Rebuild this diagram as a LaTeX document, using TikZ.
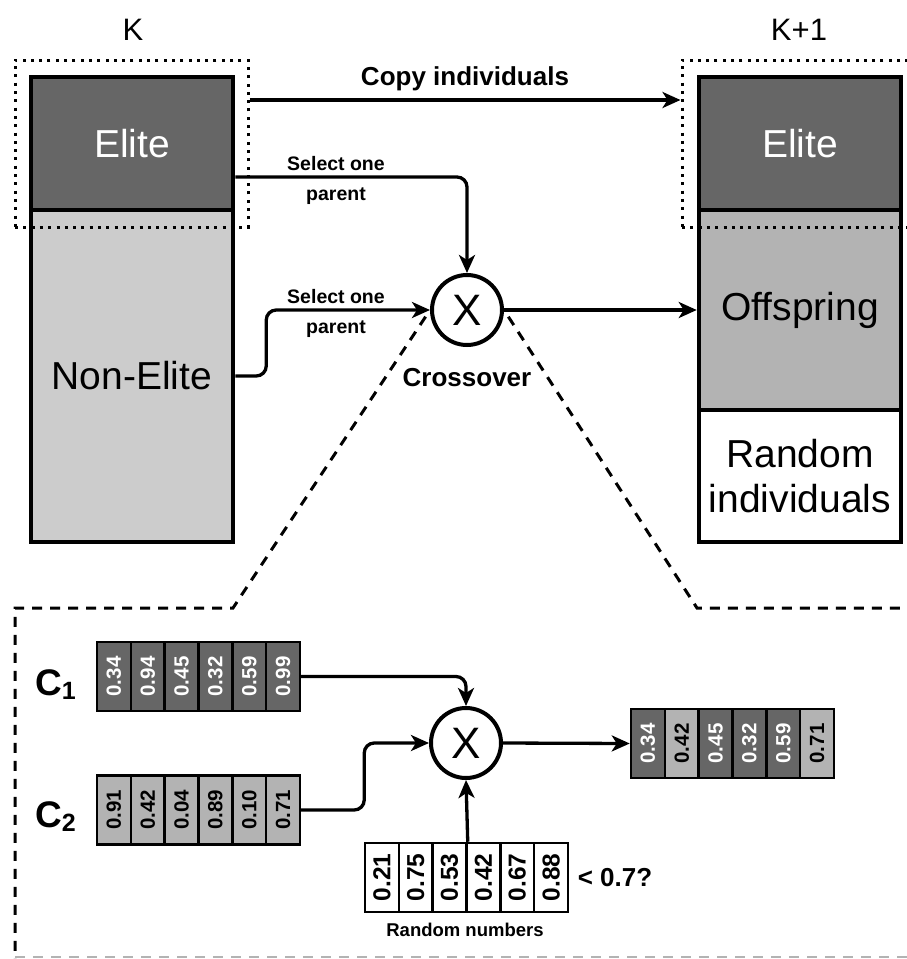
\documentclass[tikz,border=0pt]{standalone}
\usepackage{fontspec}
\setmainfont{Liberation Sans}
\usetikzlibrary{arrows.meta}
\newcommand{\fsz}[2]{\fontsize{#1}{#2}\selectfont}
\definecolor{darkg}{HTML}{666666}
\definecolor{lightg}{HTML}{CCCCCC}
\definecolor{midg}{HTML}{B3B3B3}
\pgfdeclarelayer{bg}
\pgfsetlayers{bg,main}
\begin{document}
\begin{tikzpicture}[x=1pt,y=-1pt,
  colbox/.style={draw,line width=4.5pt,minimum width=202pt,inner sep=0pt,font=\fsz{39}{45}},
  dotbox/.style={draw,line width=3pt,dash pattern=on 3pt off 5.3pt,inner sep=0pt},
  arr/.style={draw,line width=3.3pt,-{Stealth[length=18pt,width=16pt,inset=5pt]}},
  xnode/.style={circle,draw,fill=white,line width=4pt,minimum size=70pt,inner sep=0pt,font=\fsz{44}{44}},
  toplbl/.style={inner sep=0pt,font=\fsz{31}{31}},
  boldlbl/.style={inner sep=0pt,font=\bfseries\fsz{26}{30},align=center},
  sellbl/.style={inner sep=0pt,font=\bfseries\fsz{19.5}{30},align=center},
  cell/.style={draw,line width=2.5pt,minimum width=33.83pt,minimum height=69pt,inner sep=0pt,font=\bfseries\fsz{20.5}{20.5}},
  rcell/.style={cell,fill=white,font=\bfseries\fsz{24.5}{24.5}},
  dashk/.style={line width=3pt,dash pattern=on 10pt off 8pt,dash phase=10pt},
  dashg/.style={line width=2.5pt,draw=midg,dash pattern=on 10pt off 8pt}
]
\useasboundingbox (0,0) rectangle (907,959);

% ---------- top part ----------
\node[toplbl] (kL) at (133,30) {K};
\node[toplbl] (kR) at (799,30) {K+1};

\node[colbox,fill=darkg,text=white,minimum height=133pt] (eliteL) at (132,143.5) {Elite};
\node[colbox,fill=lightg,minimum height=332pt] (nonelite) at (132,376) {Non-Elite};

\node[colbox,fill=darkg,text=white,minimum height=133pt] (eliteR) at (800,143.5) {Elite};
\node[colbox,fill=midg,minimum height=200pt] (offspring) at (800,310) {Offspring};
\node[colbox,fill=white,minimum height=132pt,align=center] (randind) at (800,476) {Random\\individuals};

\node[dotbox,minimum width=233pt,minimum height=167pt] (dotL) at (131.5,143.5) {};
\node[dotbox,minimum width=233pt,minimum height=167pt] (dotR) at (798.5,143.5) {};

\node[xnode] (cx1) at (467,310) {X};

\draw[arr] ([yshift=43.5pt]dotL.east) -- ([yshift=43.5pt]dotR.west);
\node[boldlbl] (copylbl) at (465,79) {Copy individuals};

\draw[arr,rounded corners=10pt] ([yshift=-33.5pt]eliteL.east) -| (cx1.north);
\node[sellbl] (sel1) at (336,180) {Select one\\parent};

\draw[arr,rounded corners=10pt] (nonelite.east) -- ++(31,0) |- (cx1.west);
\node[sellbl] (sel2) at (336,313) {Select one\\parent};

\draw[arr] (cx1.east) -- (offspring.west);
\node[boldlbl] (crosslbl) at (467,378) {Crossover};

\begin{pgfonlayer}{bg}
\draw[dashk] (cx1.west) -- (233,608) -- (15,608) -- (15,962);
\draw[dashk] (cx1.east) -- (697,608) -- (915,608);
\draw[dashg] (15,957) -- (915,957);
\end{pgfonlayer}

% ---------- bottom part ----------
\node[anchor=base west,inner sep=0pt] (c1lbl) at (35,695) {\bfseries\fsz{37}{40}C\raisebox{-4pt}{\fsz{25}{25}1}};
\node[anchor=base west,inner sep=0pt] (c2lbl) at (35,827) {\bfseries\fsz{37}{40}C\raisebox{-4pt}{\fsz{25}{25}2}};

\foreach \v [count=\i] in {0.34,0.94,0.45,0.32,0.59,0.99}
  \node[cell,fill=darkg,text=white] (ca\i) at ({97+33.83*(\i-0.5)},676.5) {\rotatebox{90}{\v}};
\foreach \v [count=\i] in {0.91,0.42,0.04,0.89,0.10,0.71}
  \node[cell,fill=midg] (cb\i) at ({97+33.83*(\i-0.5)},810) {\rotatebox{90}{\v}};
\foreach \v/\c/\t [count=\i] in {0.34/darkg/white,0.42/midg/black,0.45/darkg/white,0.32/darkg/white,0.59/darkg/white,0.71/midg/black}
  \node[cell,fill=\c,text=\t] (cr\i) at ({631+33.83*(\i-0.5)},743.5) {\rotatebox{90}{\v}};
\foreach \v [count=\i] in {0.21,0.75,0.53,0.42,0.67,0.88}
  \node[rcell] (cd\i) at ({365+33.83*(\i-0.5)},877.5) {\rotatebox{90}{\v}};

\node[xnode] (cx2) at (466,743) {X};

\draw[arr,rounded corners=10pt] (ca6.east) -| (cx2.north);
\draw[arr,rounded corners=10pt] (cb6.east) -- ++(63,0) |- (cx2.west);
\draw[arr] (cx2.east) -- (cr1.west);
\draw[arr] (cd3.north east) -- (cx2.south);

\node[boldlbl] (thr) at (615,878) {< 0.7?};
\node[inner sep=0pt,font=\bfseries\fsz{18.5}{18.5}] (rndlbl) at (465,930) {Random numbers};
\end{tikzpicture}
\end{document}
